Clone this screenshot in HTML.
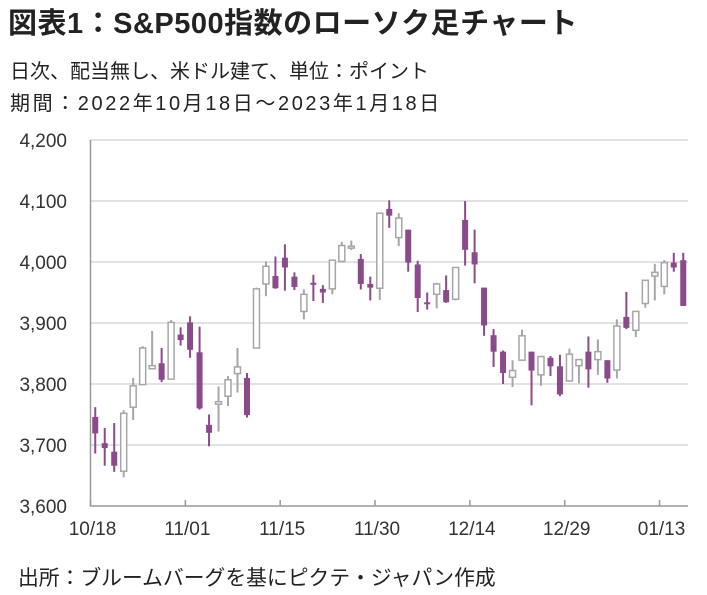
<!DOCTYPE html>
<html><head><meta charset="utf-8">
<style>
body{margin:0;width:707px;height:595px;background:#fff;font-family:"Liberation Sans","Noto Sans CJK JP",sans-serif;overflow:hidden;position:relative}
.t{position:absolute;left:8px;white-space:nowrap;color:#222}
</style></head><body>
<div class="t" style="top:0px;font-size:29px;font-weight:bold;letter-spacing:0.5px">図表1：S&amp;P500指数のローソク足チャート</div>
<div class="t" style="top:55px;font-size:20px;left:10px">日次、配当無し、米ドル建て、単位：ポイント</div>
<div class="t" style="top:87px;font-size:20px;left:10px;letter-spacing:2.6px">期間：2022年10月18日～2023年1月18日</div>
<div class="t" style="top:561px;font-size:20.8px;left:18px">出所：ブルームバーグを基にピクテ・ジャパン作成</div>
<svg id="c" width="707" height="595" style="position:absolute;left:0;top:0"></svg>
<script>
const dates=["10/18","10/19","10/20","10/21","10/24","10/25","10/26","10/27","10/28","10/31","11/01","11/02","11/03","11/04","11/07","11/08","11/09","11/10","11/11","11/14","11/15","11/16","11/17","11/18","11/21","11/22","11/23","11/25","11/28","11/29","11/30","12/01","12/02","12/05","12/06","12/07","12/08","12/09","12/12","12/13","12/14","12/15","12/16","12/19","12/20","12/21","12/22","12/23","12/27","12/28","12/29","12/30","01/03","01/04","01/05","01/06","01/09","01/10","01/11","01/12","01/13","01/17","01/18"];
const open=[3746,3703,3689,3657,3762,3799,3825,3834,3808,3881,3901,3852,3733,3767,3780,3817,3810,3859,3964,3977,4007,3976,3919,3966,3956,3956,4001,4023,4005,3964,3957,4087,4040,4053,3996,3934,3947,3954,3939,4069,4016,3958,3880,3853,3811,3839,3853,3815,3843,3829,3805,3830,3853,3840,3839,3823,3910,3888,3932,3977,3960,3999,4003];
const high=[3762,3728,3736,3757,3810,3862,3887,3859,3905,3893,3911,3894,3750,3796,3813,3859,3818,3958,4001,4009,4029,3983,3955,3979,3962,4004,4033,4035,4013,3976,4080,4101,4080,4053,4002,3950,3966,3978,3991,4100,4053,3958,3890,3855,3839,3889,3853,3846,3846,3848,3858,3840,3878,3873,3839,3906,3951,3919,3970,3997,4003,4015,4015];
const low=[3686,3666,3656,3647,3741,3799,3824,3803,3808,3863,3843,3758,3698,3722,3764,3786,3745,3859,3944,3956,3953,3954,3906,3936,3933,3947,3999,4020,3955,3937,3938,4056,4026,3984,3918,3922,3924,3933,3937,3994,3965,3879,3828,3800,3795,3839,3765,3797,3813,3780,3805,3801,3794,3815,3802,3809,3890,3877,3925,3937,3947,3984,3928];
const close=[3719,3695,3666,3752,3797,3859,3830,3807,3901,3872,3856,3760,3720,3771,3807,3828,3749,3956,3993,3957,3991,3959,3947,3965,3950,4003,4027,4026,3964,3958,4080,4076,4072,3999,3941,3933,3964,3934,3991,4020,3996,3896,3853,3818,3822,3879,3822,3845,3829,3783,3849,3840,3824,3853,3809,3895,3892,3919,3970,3983,3999,3991,3928];
const yTicks=[3600,3700,3800,3900,4000,4100,4200];
const xLabelIdx=[0,10,20,30,40,50,60];
const xLabels=["10/18","11/01","11/15","11/30","12/14","12/29","01/13"];
const NS="http://www.w3.org/2000/svg",svg=document.getElementById('c');
const X0=90.5,X1=688,Y0=506,Y1=140,band=(X1-X0)/dates.length;
const x=i=>X0+band*(i+0.5), y=v=>Y0-(v-3600)/600*(Y0-Y1);
function mk(t,a){const e=document.createElementNS(NS,t);for(const k in a)e.setAttribute(k,a[k]);svg.appendChild(e);return e;}
yTicks.forEach(v=>{
 if(v>3600){const g=mk('line',{x1:X0,x2:X1,y1:y(v),y2:y(v),stroke:'#d9d9d9','stroke-width':1.5});
 
 }
 const t=mk('text',{x:67,y:y(v)+7,'text-anchor':'end','font-size':19,fill:'#333','font-family':'Liberation Sans, sans-serif'});t.textContent=v.toLocaleString('en-US');
 
 
});
const ax=mk('path',{d:`M${X0},${Y1} V${Y0} H${X1}`,stroke:'#999','stroke-width':1.5,fill:'none'});


xLabelIdx.forEach((i,k)=>{
 const tx=X0+band*i;
 const tk=mk('line',{x1:tx,x2:tx,y1:Y0,y2:Y0-6,stroke:'#999','stroke-width':1.5});
 
 
 const t=mk('text',{x:tx+2,y:535,'text-anchor':'middle','font-size':19,fill:'#333','font-family':'Liberation Sans, sans-serif'});t.textContent=xLabels[k];
 
 
});
dates.forEach((d,i)=>{
 const up=close[i]>=open[i],col=up?'#a6a6a6':'#8b4a8a';
 const w=mk('line',{x1:x(i),x2:x(i),y1:y(high[i]),y2:y(low[i]),stroke:col,'stroke-width':2});
 
 
 const top=y(Math.max(open[i],close[i])),h=Math.max(2,Math.abs(y(open[i])-y(close[i])));
 const b=mk('rect',{x:x(i)-3,y:top,width:6,height:h,fill:up?'#fff':'#8b4a8a',stroke:col,'stroke-width':up?1.5:0});
 
 
});
</script>
</body></html>
